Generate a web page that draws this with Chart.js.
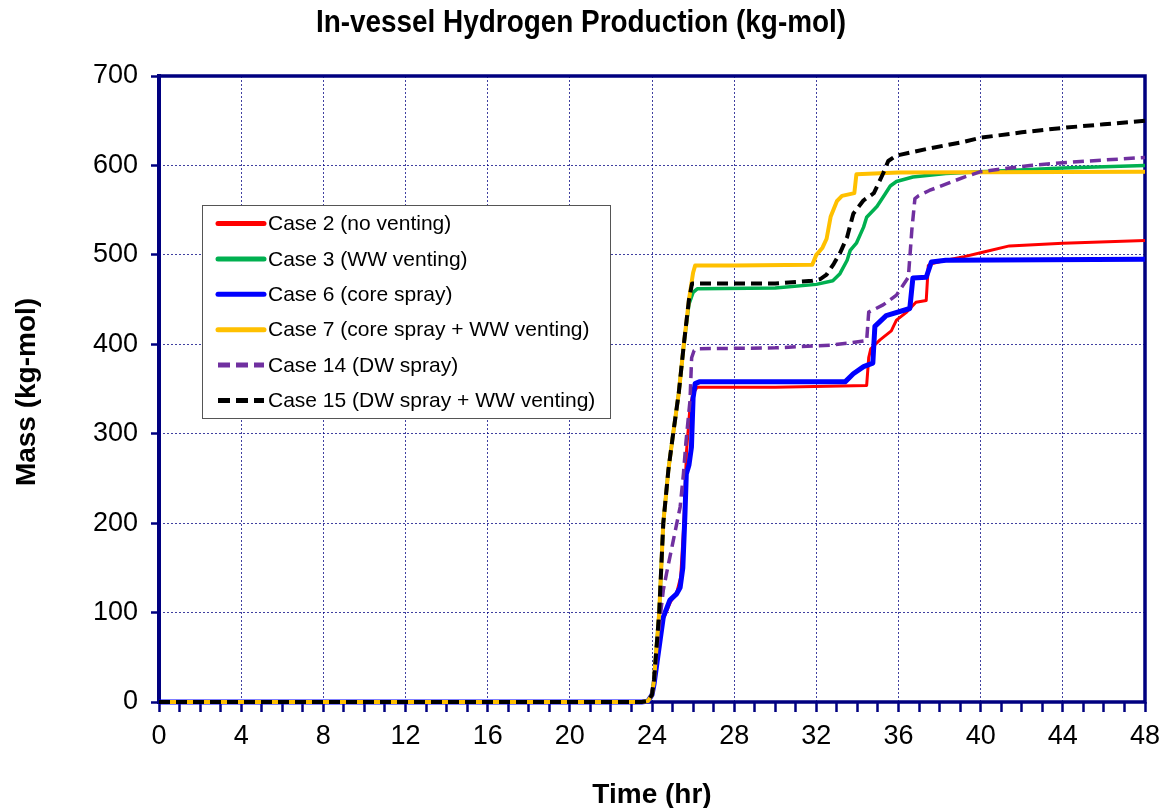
<!DOCTYPE html>
<html>
<head>
<meta charset="utf-8">
<script src="https://cdn.jsdelivr.net/npm/chart.js@4.4.1/dist/chart.umd.min.js"></script>
<style>
  html, body { margin: 0; padding: 0; background: #ffffff; }
  #wrap { width: 1165px; height: 808px; position: relative; }
</style>
</head>
<body>
<div id="wrap"><canvas id="c" width="1165" height="808"></canvas></div>
<script>
// In-vessel hydrogen production per case, time in hours, mass in kg-mol
const case2Time = [0, 23.5, 23.8, 24.0, 24.1, 24.3, 24.5, 24.9, 25.2, 25.4, 25.55, 25.68, 25.85, 26.0, 26.2, 30, 34.45, 34.55, 34.65, 35.1, 35.65, 35.9, 36.4, 36.85, 37.35, 37.45, 37.6, 38.3, 39.2, 40.1, 41.4, 44, 48];
const case2Mass = [0, 0, 1, 8, 22, 60, 90, 112, 122, 140, 200, 280, 330, 345, 352, 352, 354, 385, 395, 405, 415, 427, 436, 447, 449, 488, 490, 494, 498, 503, 510, 513, 516];

const case3Time = [0, 23.5, 23.8, 24.0, 24.1, 24.2, 24.35, 24.55, 24.8, 25.0, 25.3, 25.55, 25.8, 26.0, 26.2, 30, 32.0, 32.8, 33.15, 33.5, 33.65, 33.95, 34.3, 34.45, 34.95, 35.35, 35.6, 35.9, 36.7, 38.3, 40, 44, 48];
const case3Mass = [0, 0, 1, 8, 25, 55, 100, 200, 260, 295, 345, 400, 445, 458, 462, 463, 467, 471, 479, 494, 505, 513, 531, 542, 554, 568, 577, 582, 587, 591, 593, 597, 600];

const case6Time = [0, 23.5, 23.8, 24.0, 24.1, 24.25, 24.4, 24.55, 24.87, 25.2, 25.37, 25.5, 25.6, 25.67, 25.8, 25.92, 26.0, 26.1, 26.3, 30, 33.4, 33.8, 34.3, 34.75, 34.85, 35.4, 36.55, 36.7, 37.35, 37.6, 38.3, 48];
const case6Mass = [0, 0, 1, 8, 20, 45, 70, 95, 114, 121, 128, 150, 207, 255, 265, 285, 340, 356, 358, 358, 358, 367, 375, 379, 420, 432, 440, 474, 475, 492, 494, 495];

const case7Time = [0, 23.5, 23.8, 24.0, 24.1, 24.2, 24.35, 24.55, 24.8, 25.0, 25.3, 25.55, 25.8, 26.0, 26.1, 28, 31.8, 32.0, 32.3, 32.5, 32.7, 33.0, 33.25, 33.85, 33.95, 36, 48];
const case7Mass = [0, 0, 1, 8, 25, 55, 100, 200, 260, 295, 345, 400, 450, 480, 488, 488, 489, 500, 508, 518, 543, 560, 566, 569, 590, 592, 593];

const case14Time = [0, 23.5, 23.8, 24.0, 24.1, 24.25, 24.4, 24.55, 24.71, 25.04, 25.37, 25.53, 25.65, 25.85, 25.93, 26.05, 26.3, 30, 32.7, 34.45, 34.55, 35.25, 35.9, 36.48, 36.65, 36.8, 36.97, 37.5, 39.2, 40, 42.4, 44, 46, 48];
const case14Mass = [0, 0, 1, 8, 25, 60, 95, 125, 144, 181, 218, 255, 290, 337, 385, 393, 395, 396, 399, 404, 436, 444, 455, 475, 528, 563, 566, 572, 587, 593, 600, 603, 606, 609];

const case15Time = [0, 23.5, 23.8, 24.0, 24.1, 24.2, 24.35, 24.55, 24.8, 25.0, 25.3, 25.55, 25.8, 25.95, 30, 31.8, 32.2, 32.5, 32.85, 33.15, 33.5, 33.8, 34.3, 34.8, 35.25, 35.5, 35.9, 37.5, 39.1, 40, 42, 44, 46, 48];
const case15Mass = [0, 0, 1, 8, 25, 55, 100, 200, 260, 295, 345, 400, 450, 468, 468, 471, 473, 478, 490, 502, 520, 546, 561, 569, 591, 605, 611, 619, 626, 631, 637, 642, 646, 650];

const caseLabels = [
  'Case 2 (no venting)',
  'Case 3 (WW venting)',
  'Case 6 (core spray)',
  'Case 7 (core spray + WW venting)',
  'Case 14 (DW spray)',
  'Case 15 (DW spray + WW venting)'
];

const yTicks = [0, 100, 200, 300, 400, 500, 600, 700];
const xMajorStep = 4;

const FONT = "'Liberation Sans', Arial, Helvetica, sans-serif";
const NAVY = '#000080';
const GRID = 'rgba(0, 0, 128, 0.75)';

function pts(t, m) { return t.map((x, i) => ({ x: x, y: m[i] })); }

const datasets = [
  { label: caseLabels[0], data: pts(case2Time, case2Mass), borderColor: '#ff0000', borderWidth: 3, order: 6 },
  { label: caseLabels[1], data: pts(case3Time, case3Mass), borderColor: '#00b050', borderWidth: 3.5, order: 4 },
  { label: caseLabels[2], data: pts(case6Time, case6Mass), borderColor: '#0000ff', borderWidth: 5, order: 5 },
  { label: caseLabels[3], data: pts(case7Time, case7Mass), borderColor: '#ffc000', borderWidth: 4, order: 3 },
  { label: caseLabels[4], data: pts(case14Time, case14Mass), borderColor: '#7030a0', borderWidth: 3.5, borderDash: [11, 6], order: 2 },
  { label: caseLabels[5], data: pts(case15Time, case15Mass), borderColor: '#000000', borderWidth: 4, borderDash: [11, 6], order: 1 }
].map(d => Object.assign({
  pointRadius: 0,
  pointHoverRadius: 0,
  tension: 0,
  fill: false,
  clip: 8,
  borderJoinStyle: 'round',
  borderCapStyle: 'butt'
}, d));

// Thick navy frame around the plot area
const framePlugin = {
  id: 'frame',
  beforeDatasetsDraw(chart) {
    const { ctx, chartArea: a } = chart;
    ctx.save();
    ctx.strokeStyle = NAVY;
    ctx.lineCap = 'square';
    ctx.lineWidth = 3.5;
    ctx.beginPath();
    ctx.moveTo(a.left, a.top); ctx.lineTo(a.right, a.top);
    ctx.moveTo(a.right, a.top); ctx.lineTo(a.right, a.bottom);
    ctx.moveTo(a.left, a.bottom); ctx.lineTo(a.right, a.bottom);
    ctx.stroke();
    ctx.lineWidth = 4;
    ctx.beginPath();
    ctx.moveTo(a.left, a.top); ctx.lineTo(a.left, a.bottom);
    ctx.stroke();
    ctx.restore();
  }
};

// Boxed legend inside the plot area
const boxLegendPlugin = {
  id: 'boxLegend',
  afterDatasetsDraw(chart) {
    const { ctx } = chart;
    const box = { x: 202, y: 205, w: 408, h: 213 };
    const rowY0 = 223.5, rowStep = 35.4;
    ctx.save();
    ctx.fillStyle = '#ffffff';
    ctx.fillRect(box.x, box.y, box.w, box.h);
    ctx.strokeStyle = '#555555';
    ctx.lineWidth = 1;
    ctx.strokeRect(box.x + 0.5, box.y + 0.5, box.w, box.h);
    ctx.font = '21px ' + FONT;
    ctx.textBaseline = 'middle';
    ctx.textAlign = 'left';
    chart.data.datasets.forEach((ds, i) => {
      const y = rowY0 + i * rowStep;
      ctx.beginPath();
      ctx.strokeStyle = ds.borderColor;
      ctx.lineWidth = 5;
      ctx.lineCap = ds.borderDash ? 'butt' : 'round';
      ctx.setLineDash(ds.borderDash ? [12, 6] : []);
      ctx.moveTo(218, y);
      ctx.lineTo(264, y);
      ctx.stroke();
      ctx.setLineDash([]);
      ctx.fillStyle = '#000000';
      ctx.fillText(ds.label, 268, y + 1);
    });
    ctx.restore();
  }
};

// Chart title and axis titles
const titlesPlugin = {
  id: 'titles',
  afterDraw(chart) {
    const { ctx } = chart;
    ctx.save();
    ctx.fillStyle = '#000000';
    ctx.textAlign = 'center';
    ctx.textBaseline = 'middle';
    // condensed bold heading
    ctx.save();
    ctx.translate(581, 23);
    ctx.scale(0.9, 1);
    ctx.font = 'bold 31px ' + FONT;
    ctx.fillText('In-vessel Hydrogen Production (kg-mol)', 0, 0);
    ctx.restore();
    ctx.font = 'bold 28px ' + FONT;
    ctx.fillText('Time (hr)', 652, 795);
    ctx.translate(27, 392);
    ctx.rotate(-Math.PI / 2);
    ctx.fillText('Mass (kg-mol)', 0, 0);
    ctx.restore();
  }
};

new Chart(document.getElementById('c'), {
  type: 'line',
  data: { datasets: datasets },
  options: {
    responsive: false,
    animation: false,
    devicePixelRatio: 1,
    events: [],
    layout: { padding: { top: 76, right: 20, left: 0, bottom: 0 } },
    plugins: {
      legend: { display: false },
      title: { display: false },
      tooltip: { enabled: false }
    },
    scales: {
      x: {
        type: 'linear',
        min: 0,
        max: 48,
        afterFit(s) { s.height = 106; s.paddingLeft = 0; s.paddingRight = 0; },
        ticks: {
          stepSize: 1,
          autoSkip: false,
          maxRotation: 0,
          minRotation: 0,
          padding: 8,
          color: '#000000',
          font: { family: FONT, size: 27 },
          callback: v => (v % xMajorStep === 0 ? String(v) : '')
        },
        grid: {
          color: c => (c.tick && c.tick.value % xMajorStep === 0 && c.tick.value > 0 && c.tick.value < 48) ? GRID : 'rgba(0,0,0,0)',
          lineWidth: 1,
          tickColor: NAVY,
          tickWidth: 2.5,
          tickLength: 10
        },
        border: { display: false, dash: [2, 2] }
      },
      y: {
        type: 'linear',
        min: yTicks[0],
        max: yTicks[yTicks.length - 1],
        afterFit(s) { s.width = 159; s.paddingTop = 0; s.paddingBottom = 0; },
        afterBuildTicks(s) { s.ticks = yTicks.map(v => ({ value: v })); },
        ticks: {
          padding: 13,
          color: '#000000',
          font: { family: FONT, size: 27 }
        },
        grid: {
          color: c => (c.tick && c.tick.value > 0 && c.tick.value < 700) ? GRID : 'rgba(0,0,0,0)',
          lineWidth: 1,
          tickColor: NAVY,
          tickWidth: 2.5,
          tickLength: 8
        },
        border: { display: false, dash: [2, 2] }
      }
    }
  },
  plugins: [framePlugin, boxLegendPlugin, titlesPlugin]
});
</script>
</body>
</html>
